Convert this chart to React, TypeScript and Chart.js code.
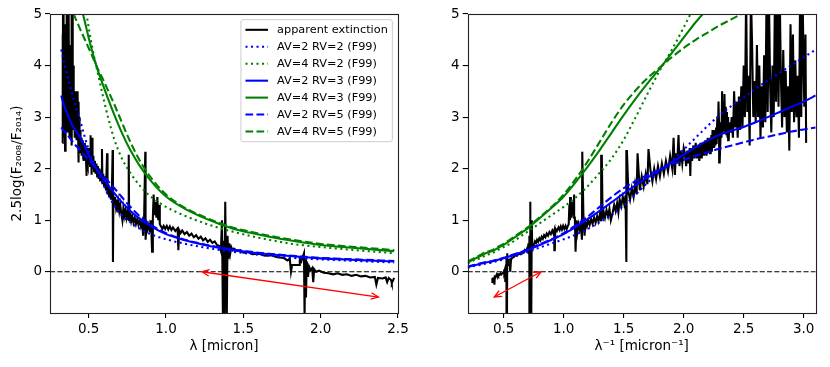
import { useEffect, useRef } from 'react';
import { Chart, registerables } from 'chart.js';

Chart.register(...registerables);

// ---------- data ----------
// apparent extinction spectrum: wavelength (micron) and 2.5 log(F2008/F2014)
const spectrumWavelength = [
  0.3311, 0.3317, 0.3328, 0.3344, 0.3356, 0.3367, 0.3378, 0.3390, 0.3401, 0.3413,
  0.3425, 0.3436, 0.3448, 0.3460, 0.3472, 0.3484, 0.3497, 0.3509, 0.3521, 0.3534,
  0.3546, 0.3559, 0.3571, 0.3584, 0.3597, 0.3610, 0.3623, 0.3636, 0.3650, 0.3663,
  0.3676, 0.3690, 0.3704, 0.3717, 0.3731, 0.3745, 0.3759, 0.3774, 0.3788, 0.3802,
  0.3817, 0.3831, 0.3846, 0.3861, 0.3876, 0.3891, 0.3906, 0.3922, 0.3937, 0.3953,
  0.3968, 0.3984, 0.4000, 0.4016, 0.4032, 0.4049, 0.4065, 0.4082, 0.4098, 0.4115,
  0.4132, 0.4149, 0.4167, 0.4184,
  0.4202, 0.4210, 0.4219, 0.4228, 0.4237, 0.4246, 0.4255, 0.4264, 0.4274, 0.4283,
  0.4292, 0.4301, 0.4310, 0.4320, 0.4329, 0.4338, 0.4348, 0.4357, 0.4367, 0.4376,
  0.4386, 0.4396, 0.4405, 0.4415, 0.4425, 0.4435, 0.4444, 0.4454, 0.4464, 0.4474,
  0.4484, 0.4494, 0.4505, 0.4525, 0.4545, 0.4566, 0.4587, 0.4608, 0.4630, 0.4651,
  0.4673, 0.4695, 0.4717, 0.4739, 0.4762, 0.4785, 0.4808, 0.4831, 0.4854, 0.4866,
  0.4878, 0.4902, 0.4926, 0.4950, 0.4975,
  0.500, 0.503, 0.506, 0.509, 0.511, 0.514, 0.517, 0.519, 0.522, 0.525,
  0.530, 0.535, 0.540, 0.545, 0.550, 0.555, 0.560, 0.565, 0.570, 0.575,
  0.580, 0.586, 0.589, 0.594, 0.600, 0.606, 0.612, 0.619, 0.622, 0.627,
  0.632, 0.638, 0.644, 0.650, 0.655, 0.657, 0.660, 0.665, 0.670, 0.676,
  0.682, 0.687, 0.692, 0.698, 0.704, 0.710, 0.718, 0.724, 0.730, 0.737,
  0.744, 0.750, 0.755, 0.759, 0.762, 0.768, 0.775, 0.782, 0.790, 0.798,
  0.806, 0.814, 0.822, 0.830, 0.838, 0.846, 0.852, 0.858, 0.866, 0.868,
  0.875, 0.882, 0.890, 0.897, 0.903, 0.910, 0.915, 0.920, 0.925, 0.932,
  0.938, 0.944, 0.950, 0.955, 0.960, 0.968, 0.976, 0.985, 0.995, 1.005,
  1.015, 1.025, 1.035, 1.045, 1.060, 1.075, 1.080, 1.085, 1.095, 1.105,
  1.120, 1.135, 1.150, 1.165, 1.180, 1.195, 1.210, 1.225, 1.240, 1.255,
  1.270, 1.285, 1.300, 1.315, 1.330, 1.345, 1.355, 1.362, 1.368, 1.373,
  1.378, 1.383, 1.388, 1.393, 1.398, 1.403, 1.408, 1.415, 1.422, 1.430,
  1.440, 1.460, 1.480, 1.500, 1.530, 1.560, 1.600, 1.640, 1.680, 1.720,
  1.760, 1.785, 1.800, 1.808, 1.815, 1.860, 1.865, 1.875, 1.885, 1.892,
  1.896, 1.900, 1.905, 1.910, 1.918, 1.925, 1.935, 1.945, 1.952, 1.958,
  1.970, 1.990, 2.020, 2.050, 2.080, 2.110, 2.140, 2.170, 2.200, 2.230,
  2.260, 2.290, 2.320, 2.350, 2.360, 2.370, 2.400, 2.420, 2.430, 2.440,
  2.455, 2.460, 2.475,
];
const spectrumValue = [
  2.5, 4.6, 3.2, 5.4, 3.0, 5.4, 2.6, 3.8, 3.0, 4.1,
  2.9, 4.6, 3.1, 4.8, 2.35, 3.6, 2.7, 3.9, 3.0, 4.3,
  2.8, 3.8, 5.4, 3.2, 5.4, 3.3, 5.4, 3.0, 4.0, 2.7,
  3.6, 5.4, 3.1, 5.4, 2.9, 4.2, 2.8, 3.6, 2.6, 4.0,
  3.0, 4.4, 2.9, 3.7, 3.0, 4.4, 5.4, 2.45, 3.8, 3.1,
  5.4, 3.0, 4.0, 2.8, 3.6, 2.75, 3.4, 2.6, 3.3, 2.8,
  3.5, 2.6, 3.0, 2.7,
  2.9, 2.55, 3.0, 2.6, 3.1, 2.65, 3.2, 2.7, 3.45, 2.75,
  3.3, 2.7, 3.5, 2.6, 2.9, 2.5, 2.12, 2.8, 3.3, 2.6,
  3.0, 2.5, 2.8, 2.45, 2.75, 2.4, 2.7, 2.4, 2.75, 2.35,
  2.65, 2.3, 2.6, 2.3, 2.6, 2.25, 2.55, 2.25, 2.5, 2.2,
  2.5, 2.15, 2.45, 2.2, 2.5, 2.2, 2.45, 2.15, 2.4, 1.86,
  2.4, 2.1, 2.35, 2.05, 2.3,
  2.4, 2.1, 2.35, 2.05, 2.65, 2.1, 2.3, 1.88, 2.6, 2.0,
  2.25, 1.95, 2.15, 1.9, 2.1, 1.85, 2.05, 1.8, 2.0, 1.75,
  1.95, 2.38, 1.7, 1.9, 1.65, 1.85, 1.58, 2.3, 1.5, 1.7,
  1.45, 1.62, 1.4, 1.56, 2.36, 0.19, 1.48, 1.32, 1.45, 1.27,
  1.4, 1.15, 1.33, 1.18, 1.3, 1.15, 1.0, 1.22, 1.08, 1.2,
  1.05, 1.16, 1.02, 2.27, 0.98, 1.12, 0.98, 1.08, 0.95, 1.05,
  0.93, 1.02, 0.91, 1.0, 0.88, 0.97, 0.7, 0.95, 2.33, 0.62,
  0.92, 0.82, 0.92, 0.78, 1.0, 0.39, 1.05, 1.5, 1.1, 1.35,
  1.05, 1.45, 1.0, 1.3, 0.92, 0.88, 0.83, 0.89, 0.83, 0.89,
  0.82, 0.88, 0.81, 0.86, 0.79, 0.84, 0.42, 0.81, 0.75, 0.8,
  0.73, 0.77, 0.7, 0.74, 0.67, 0.71, 0.64, 0.68, 0.61, 0.65,
  0.58, 0.62, 0.56, 0.59, 0.52, 0.5, 0.4, 1.0, -0.9, 0.6,
  -0.9, 1.36, 0.1, -0.9, 0.7, 0.25, 0.55, 0.35, 0.48, 0.42,
  0.45, 0.4, 0.42, 0.37, 0.38, 0.34, 0.35, 0.31, 0.32, 0.28,
  0.27, 0.22, 0.26, 0.0, 0.13, 0.13, 0.25, 0.2, 0.3, 0.36,
  -0.9, 0.3, -0.5, 0.2, -0.1, 0.1, 0.03, 0.07, -0.2, 0.05,
  0.0, 0.02, -0.02, -0.03, -0.05, -0.03, -0.06, -0.05, -0.08, -0.06,
  -0.09, -0.08, -0.11, -0.1, -0.25, -0.12, -0.13, -0.11, -0.2, -0.12,
  -0.16, -0.22, -0.12,
];

// F99 model curves, sampled in inverse wavelength (1/micron)
const modelWavenumber = [
  0.2, 0.25, 0.3, 0.35, 0.404, 0.45, 0.5, 0.55, 0.6, 0.65, 0.7, 0.75, 0.8, 0.9, 1.0, 1.1, 1.2, 1.3,
  1.4, 1.5, 1.6, 1.7, 1.8, 1.9, 2.0, 2.1, 2.2, 2.3, 2.4, 2.5, 2.6, 2.7, 2.8, 2.9, 3.0, 3.1,
];
const av2rv2 = [
  0.08, 0.11, 0.13, 0.16, 0.18, 0.21, 0.24, 0.27, 0.31, 0.35, 0.39, 0.43, 0.47, 0.55, 0.63, 0.72, 0.83, 0.96,
  1.1, 1.28, 1.5, 1.73, 1.95, 2.15, 2.37, 2.6, 2.83, 3.04, 3.22, 3.38, 3.55, 3.71, 3.86, 4.01, 4.16, 4.31,
];
const av4rv2 = [
  0.16, 0.22, 0.26, 0.32, 0.36, 0.42, 0.48, 0.54, 0.62, 0.7, 0.78, 0.86, 0.94, 1.1, 1.26, 1.44, 1.66, 1.92,
  2.2, 2.56, 3.0, 3.46, 3.9, 4.3, 4.74, 5.2, 5.66, 6.08, 6.44, 6.76, 7.1, 7.42, 7.72, 8.02, 8.32, 8.62,
];
const av2rv3 = [
  0.09, 0.12, 0.15, 0.18, 0.2, 0.23, 0.26, 0.3, 0.34, 0.38, 0.42, 0.47, 0.52, 0.62, 0.73, 0.87, 1.02, 1.18,
  1.35, 1.52, 1.68, 1.83, 1.97, 2.12, 2.27, 2.42, 2.55, 2.66, 2.74, 2.81, 2.9, 3.0, 3.1, 3.2, 3.3, 3.42,
];
const av4rv3 = [
  0.18, 0.24, 0.3, 0.36, 0.4, 0.46, 0.52, 0.6, 0.68, 0.76, 0.84, 0.94, 1.04, 1.24, 1.46, 1.74, 2.04, 2.36,
  2.7, 3.04, 3.36, 3.66, 3.94, 4.24, 4.54, 4.84, 5.1, 5.32, 5.48, 5.62, 5.8, 6.0, 6.2, 6.4, 6.6, 6.84,
];
const av2rv5 = [
  0.1, 0.13, 0.16, 0.19, 0.21, 0.24, 0.27, 0.31, 0.35, 0.39, 0.43, 0.48, 0.53, 0.63, 0.75, 0.9, 1.07, 1.26,
  1.45, 1.62, 1.76, 1.88, 1.98, 2.08, 2.17, 2.25, 2.32, 2.39, 2.45, 2.51, 2.57, 2.62, 2.67, 2.72, 2.76, 2.8,
];
const av4rv5 = [
  0.2, 0.26, 0.32, 0.38, 0.42, 0.48, 0.54, 0.62, 0.7, 0.78, 0.86, 0.96, 1.06, 1.26, 1.5, 1.8, 2.14, 2.52,
  2.9, 3.24, 3.52, 3.76, 3.96, 4.16, 4.34, 4.5, 4.64, 4.78, 4.9, 5.02, 5.14, 5.24, 5.34, 5.44, 5.52, 5.6,
];

const seriesLabels = [
  'apparent extinction',
  'AV=2 RV=2 (F99)',
  'AV=4 RV=2 (F99)',
  'AV=2 RV=3 (F99)',
  'AV=4 RV=3 (F99)',
  'AV=2 RV=5 (F99)',
  'AV=4 RV=5 (F99)',
];

const lambdaTicks = [0.5, 1.0, 1.5, 2.0, 2.5];
const waveTicks = [0.5, 1.0, 1.5, 2.0, 2.5, 3.0];
const valueTicks = [0, 1, 2, 3, 4, 5];
const lambdaRange = [0.25, 2.5];
const waveRange = [0.2, 3.1];
const valueRange = [-0.8, 5];
const lambdaMaxModel = 2.476;

const arrowWavelength = [1.232, 2.373];
const arrowValue = [0.0, -0.49];
const zeroLevel = 0;

// ---------- styles ----------
const FONT = 'DejaVu Sans';
const BLUE = '#0000ff';
const GREEN = '#008000';
const LW = 2.08;
const DOT = [1 * LW, 1.65 * LW];
const DASH = [3.7 * LW, 1.6 * LW];

const modelSeries = [
  { values: av2rv2, color: BLUE, dash: DOT },
  { values: av4rv2, color: GREEN, dash: DOT },
  { values: av2rv3, color: BLUE, dash: [] as number[] },
  { values: av4rv3, color: GREEN, dash: [] as number[] },
  { values: av2rv5, color: BLUE, dash: DASH },
  { values: av4rv5, color: GREEN, dash: DASH },
];

function drawArrowHead(ctx: CanvasRenderingContext2D, x: number, y: number, ang: number) {
  const len = 8;
  const w = 0.42;
  ctx.beginPath();
  ctx.moveTo(x + len * Math.cos(ang + w), y + len * Math.sin(ang + w));
  ctx.lineTo(x, y);
  ctx.lineTo(x + len * Math.cos(ang - w), y + len * Math.sin(ang - w));
  ctx.stroke();
}

function makeDecor(inverse: boolean, withLegend: boolean) {
  return {
    id: 'decor' + (inverse ? 'R' : 'L'),
    afterDatasetsDraw(chart: any) {
      const { ctx, chartArea: a, scales } = chart;
      const xs = scales.x;
      const ys = scales.y;
      ctx.save();
      ctx.beginPath();
      ctx.rect(a.left, a.top, a.right - a.left, a.bottom - a.top);
      ctx.clip();
      // zero line
      const y0 = ys.getPixelForValue(zeroLevel);
      ctx.strokeStyle = '#000';
      ctx.lineWidth = 1.2;
      ctx.setLineDash([5.1, 2.2]);
      ctx.beginPath();
      ctx.moveTo(a.left, y0);
      ctx.lineTo(a.right, y0);
      ctx.stroke();
      ctx.setLineDash([]);
      // double arrow
      const px = arrowWavelength.map((l) => xs.getPixelForValue(inverse ? 1 / l : l));
      const py = arrowValue.map((v) => ys.getPixelForValue(v));
      ctx.strokeStyle = '#ff0000';
      ctx.lineWidth = 1.3;
      ctx.beginPath();
      ctx.moveTo(px[0], py[0]);
      ctx.lineTo(px[1], py[1]);
      ctx.stroke();
      const ang = Math.atan2(py[1] - py[0], px[1] - px[0]);
      drawArrowHead(ctx, px[0], py[0], ang);
      drawArrowHead(ctx, px[1], py[1], ang + Math.PI);
      ctx.restore();
      // frame
      ctx.save();
      ctx.strokeStyle = '#222';
      ctx.lineWidth = 1.1;
      ctx.strokeRect(Math.round(a.left) + 0.5, Math.round(a.top) + 0.5, Math.round(a.right - a.left), Math.round(a.bottom - a.top));
      ctx.restore();
      if (!withLegend) return;
      // legend
      ctx.save();
      const fs = 11.3;
      ctx.font = `${fs}px "${FONT}"`;
      const tw = Math.max(...seriesLabels.map((t) => ctx.measureText(t).width));
      const pad = 0.4 * fs;
      const handle = 2 * fs;
      const gap = 0.8 * fs;
      const spacing = 0.5 * fs;
      const boxW = pad * 2 + handle + gap + tw;
      const boxH = pad * 2 + seriesLabels.length * fs + (seriesLabels.length - 1) * spacing;
      const right = a.right - 0.5 * fs;
      const top = a.top + 0.5 * fs;
      const left = right - boxW;
      const r = 2.2;
      ctx.beginPath();
      ctx.moveTo(left + r, top);
      ctx.lineTo(right - r, top);
      ctx.arcTo(right, top, right, top + r, r);
      ctx.lineTo(right, top + boxH - r);
      ctx.arcTo(right, top + boxH, right - r, top + boxH, r);
      ctx.lineTo(left + r, top + boxH);
      ctx.arcTo(left, top + boxH, left, top + boxH - r, r);
      ctx.lineTo(left, top + r);
      ctx.arcTo(left, top, left + r, top, r);
      ctx.closePath();
      ctx.fillStyle = 'rgba(255,255,255,0.8)';
      ctx.fill();
      ctx.strokeStyle = '#cccccc';
      ctx.lineWidth = 1;
      ctx.stroke();
      const styles = [{ color: '#000', dash: [] as number[] }, ...modelSeries];
      seriesLabels.forEach((label, i) => {
        const cy = top + pad + fs / 2 + i * (fs + spacing);
        const st = styles[i];
        ctx.strokeStyle = st.color;
        ctx.lineWidth = LW;
        ctx.setLineDash(st.dash);
        ctx.beginPath();
        ctx.moveTo(left + pad, cy);
        ctx.lineTo(left + pad + handle, cy);
        ctx.stroke();
        ctx.setLineDash([]);
        ctx.fillStyle = '#000';
        ctx.textBaseline = 'middle';
        ctx.textAlign = 'left';
        ctx.fillText(label, left + pad + handle + gap, cy + 0.5);
      });
      ctx.restore();
    },
  };
}

function buildConfig(inverse: boolean): any {
  const spectrum = spectrumWavelength.map((l, i) => ({ x: inverse ? 1 / l : l, y: spectrumValue[i] }));
  const datasets: any[] = [
    {
      label: seriesLabels[0],
      data: spectrum,
      borderColor: '#000',
      borderWidth: LW,
      pointRadius: 0,
      showLine: true,
      tension: 0,
      order: 100,
    },
  ];
  modelSeries.forEach((m, j) => {
    let pts = modelWavenumber.map((k, i) => ({ x: inverse ? k : 1 / k, y: m.values[i] }));
    if (!inverse) pts = pts.filter((p) => p.x <= lambdaMaxModel).reverse();
    datasets.push({
      label: seriesLabels[j + 1],
      data: pts,
      borderColor: m.color,
      borderWidth: LW,
      borderDash: m.dash,
      borderCapStyle: 'butt',
      pointRadius: 0,
      showLine: true,
      cubicInterpolationMode: 'monotone',
      order: 6 - j,
    });
  });
  const xr = inverse ? waveRange : lambdaRange;
  const xt = inverse ? waveTicks : lambdaTicks;
  const tickFont = { family: FONT, size: 13.5 };
  return {
    type: 'scatter',
    data: { datasets },
    plugins: [makeDecor(inverse, !inverse)],
    options: {
      animation: false,
      responsive: false,
      events: [],
      layout: { padding: { left: 0, top: 14, right: inverse ? 14.3 : 17, bottom: 0 } },
      plugins: { legend: { display: false }, tooltip: { enabled: false } },
      scales: {
        x: {
          type: 'linear',
          min: xr[0],
          max: xr[1],
          afterBuildTicks: (ax: any) => {
            ax.ticks = xt.map((v) => ({ value: v }));
          },
          afterFit: (ax: any) => {
            ax.height = 54;
            ax.paddingLeft = 0;
            ax.paddingRight = 0;
          },
          ticks: {
            color: '#000',
            font: tickFont,
            padding: 3,
            maxRotation: 0,
            autoSkip: false,
            callback: (v: any) => Number(v).toFixed(1),
          },
          grid: { drawOnChartArea: false, drawTicks: true, tickLength: 5, color: '#000', lineWidth: 1.1 },
          border: { display: false },
          title: {
            display: true,
            text: inverse ? 'λ⁻¹ [micron⁻¹]' : 'λ [micron]',
            color: '#000',
            font: tickFont,
            padding: { top: 0, bottom: 12 },
          },
        },
        y: {
          type: 'linear',
          min: valueRange[0],
          max: valueRange[1],
          afterBuildTicks: (ax: any) => {
            ax.ticks = valueTicks.map((v) => ({ value: v }));
          },
          afterFit: (ax: any) => {
            ax.width = inverse ? 52.7 : 50;
            ax.paddingTop = 0;
            ax.paddingBottom = 0;
          },
          ticks: {
            color: '#000',
            font: tickFont,
            padding: 3,
            autoSkip: false,
            callback: (v: any) => String(v),
          },
          grid: { drawOnChartArea: false, drawTicks: true, tickLength: 5, color: '#000', lineWidth: 1.1 },
          border: { display: false },
          title: {
            display: !inverse,
            text: '2.5log(F₂₀₀₈/F₂₀₁₄)',
            color: '#000',
            font: tickFont,
            padding: { top: 9, bottom: 0 },
          },
        },
      },
    },
  };
}

function Panel({ inverse, left }: { inverse: boolean; left: number }) {
  const ref = useRef<HTMLCanvasElement | null>(null);
  useEffect(() => {
    if (!ref.current) return;
    const chart = new Chart(ref.current, buildConfig(inverse));
    return () => chart.destroy();
  }, [inverse]);
  return (
    <canvas
      ref={ref}
      width={415}
      height={367}
      style={{ position: 'absolute', left, top: 0, width: 415, height: 367 }}
    />
  );
}

export default function App() {
  return (
    <div
      style={{
        position: 'fixed',
        left: 0,
        top: 0,
        width: 830,
        height: 367,
        background: '#fff',
        overflow: 'hidden',
      }}
    >
      <Panel inverse={false} left={0} />
      <Panel inverse={true} left={415} />
    </div>
  );
}
